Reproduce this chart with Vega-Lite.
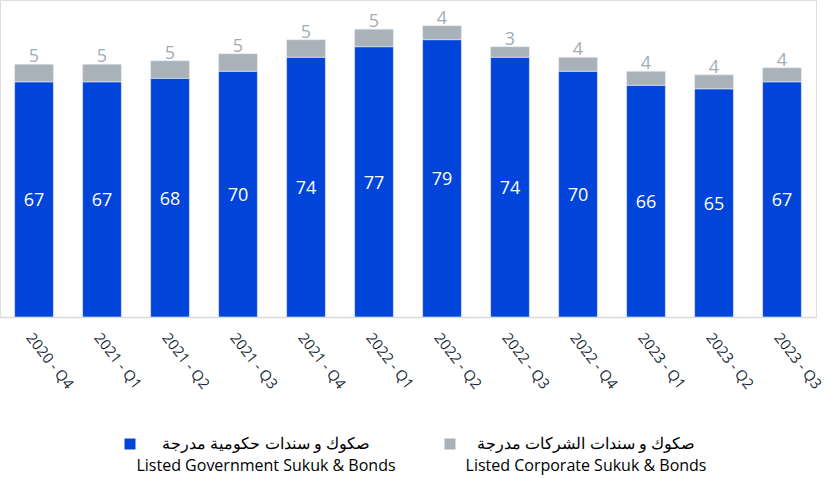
{
  "$schema": "https://vega.github.io/schema/vega-lite/v6.json",
  "width": 816,
  "height": 317,
  "padding": {"left": 0, "top": 0, "right": 11, "bottom": 161},
  "autosize": "none",
  "background": "white",
  "config": {"style": {"guide-label": {"lineHeight": 22}}},
  "data": {
    "values": [
      {"period": "2020 - Q4", "series": "gov", "value": 67},
      {"period": "2020 - Q4", "series": "corp", "value": 5},
      {"period": "2021 - Q1", "series": "gov", "value": 67},
      {"period": "2021 - Q1", "series": "corp", "value": 5},
      {"period": "2021 - Q2", "series": "gov", "value": 68},
      {"period": "2021 - Q2", "series": "corp", "value": 5},
      {"period": "2021 - Q3", "series": "gov", "value": 70},
      {"period": "2021 - Q3", "series": "corp", "value": 5},
      {"period": "2021 - Q4", "series": "gov", "value": 74},
      {"period": "2021 - Q4", "series": "corp", "value": 5},
      {"period": "2022 - Q1", "series": "gov", "value": 77},
      {"period": "2022 - Q1", "series": "corp", "value": 5},
      {"period": "2022 - Q2", "series": "gov", "value": 79},
      {"period": "2022 - Q2", "series": "corp", "value": 4},
      {"period": "2022 - Q3", "series": "gov", "value": 74},
      {"period": "2022 - Q3", "series": "corp", "value": 3},
      {"period": "2022 - Q4", "series": "gov", "value": 70},
      {"period": "2022 - Q4", "series": "corp", "value": 4},
      {"period": "2023 - Q1", "series": "gov", "value": 66},
      {"period": "2023 - Q1", "series": "corp", "value": 4},
      {"period": "2023 - Q2", "series": "gov", "value": 65},
      {"period": "2023 - Q2", "series": "corp", "value": 4},
      {"period": "2023 - Q3", "series": "gov", "value": 67},
      {"period": "2023 - Q3", "series": "corp", "value": 4}
    ]
  },
  "transform": [
    {"stack": "value", "groupby": ["period"], "sort": [{"field": "series", "order": "descending"}], "as": ["v0", "v1"]}
  ],
  "encoding": {
    "x": {
      "field": "period",
      "type": "nominal",
      "sort": null,
      "scale": {"paddingInner": 0.43, "paddingOuter": 0.215},
      "axis": {
        "title": null,
        "labelAngle": 52,
        "labelAlign": "left",
        "labelBaseline": "top",
        "labelFont": "Open Sans",
        "labelFontSize": 14.8,
        "labelColor": "#1c2b3a",
        "labelPadding": 13,
        "labelOffset": 1,
        "ticks": false,
        "domainColor": "#d9d9d9",
        "domainWidth": 1.5,
        "grid": false
      }
    }
  },
  "resolve": {"scale": {"y": "independent"}},
  "layer": [
    {
      "mark": {"type": "bar", "stroke": "#e6ecf5", "strokeWidth": 0.6},
      "encoding": {
        "y": {"field": "v1", "type": "quantitative", "scale": {"domain": [0, 90.3], "nice": false}, "axis": null},
        "y2": {"field": "v0"},
        "color": {
          "field": "series",
          "type": "nominal",
          "scale": {"domain": ["gov", "corp"], "range": ["#0044d9", "#a8b2b8"]},
          "legend": {
            "orient": "none",
            "legendX": 122,
            "legendY": 436,
            "direction": "horizontal",
            "title": null,
            "symbolType": "square",
            "symbolSize": 121,
            "symbolStrokeWidth": 0,
            "columnPadding": 46,
            "labelFont": "Open Sans",
            "labelFontSize": 16,
            "labelAlign": "center",
            "labelOffset": 128,
            "labelLimit": 0,
            "labelExpr": "datum.value == 'gov' ? ['صكوك و سندات حكومية مدرجة', 'Listed Government Sukuk & Bonds'] : ['صكوك و سندات الشركات مدرجة', 'Listed Corporate Sukuk & Bonds']",
            "encode": {
              "labels": {
                "update": {
                  "fill": {"signal": "datum.value == 'gov' ? '#1f4fd6' : '#8c8c8c'"},
                  "dy": {"value": 11}
                }
              }
            }
          }
        }
      }
    },
    {
      "transform": [{"filter": "datum.series == 'gov'"}],
      "mark": {"type": "text", "color": "white", "font": "Open Sans", "fontSize": 18, "baseline": "middle", "dy": 2},
      "encoding": {
        "y": {"field": "value", "type": "quantitative", "scale": {"domain": [0, 180.6], "nice": false}, "axis": null},
        "text": {"field": "value", "type": "quantitative"}
      }
    },
    {
      "transform": [{"filter": "datum.series == 'corp'"}],
      "mark": {"type": "text", "color": "#a3acb4", "font": "Open Sans", "fontSize": 18, "baseline": "bottom", "dy": 2},
      "encoding": {
        "y": {"field": "v1", "type": "quantitative", "scale": {"domain": [0, 90.3], "nice": false}, "axis": null},
        "text": {"field": "value", "type": "quantitative"}
      }
    }
  ]
}
